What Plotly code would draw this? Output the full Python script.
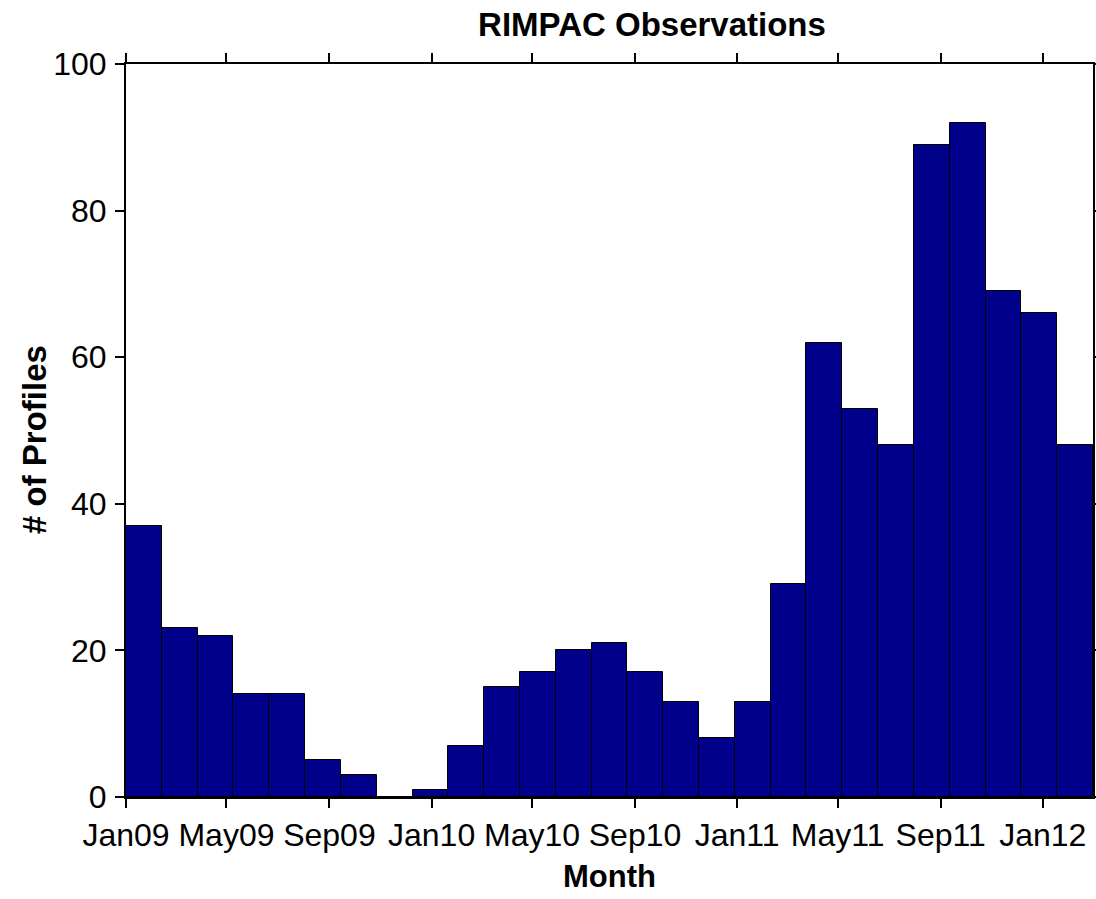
import pandas as pd
import plotly.graph_objects as go

# Profile counts per bin, Jan 2009 through Feb 2012 (27 equal-width bins)
period_start = "2009-01-01"
period_end = "2012-03-01"
profile_counts = [37, 23, 22, 14, 14, 5, 3, 0, 1, 7, 15, 17, 20, 21, 17, 13,
                  8, 13, 29, 62, 53, 48, 89, 92, 69, 66, 48]

tick_dates = ["2009-01-01", "2009-05-01", "2009-09-01", "2010-01-01",
              "2010-05-01", "2010-09-01", "2011-01-01", "2011-05-01",
              "2011-09-01", "2012-01-01"]
tick_labels = ["Jan09", "May09", "Sep09", "Jan10", "May10", "Sep10",
               "Jan11", "May11", "Sep11", "Jan12"]
y_ticks = [0, 20, 40, 60, 80, 100]

t0 = pd.Timestamp(period_start)
t1 = pd.Timestamp(period_end)
n_bins = len(profile_counts)
bin_width = (t1 - t0) / n_bins
bin_starts = [t0 + i * bin_width for i in range(n_bins)]
bin_width_ms = bin_width.total_seconds() * 1000.0

fig = go.Figure(
    go.Bar(
        x=bin_starts,
        y=profile_counts,
        width=[bin_width_ms] * n_bins,
        offset=0,
        marker=dict(color="#00008B", line=dict(color="black", width=1)),
        hoverinfo="x+y",
    )
)

FONT = "Liberation Sans, Arial, Helvetica, sans-serif"
axis_font = dict(family=FONT, size=32, color="black")
title_font = dict(family=FONT, size=31, color="black")

fig.update_layout(
    width=1096,
    height=899,
    margin=dict(l=126, r=3, t=64, b=102, pad=0),
    paper_bgcolor="white",
    plot_bgcolor="white",
    showlegend=False,
    bargap=0,
    title=dict(
        text="<b>RIMPAC Observations</b>",
        font=dict(family=FONT, size=33, color="black"),
        x=652 / 1096, xref="container", xanchor="center",
        y=1 - 24 / 899, yref="container", yanchor="middle",
    ),
    xaxis=dict(
        type="date",
        range=[t0, t1],
        tickvals=tick_dates,
        ticktext=tick_labels,
        ticks="outside", ticklen=9, tickwidth=2, tickcolor="black",
        showline=True, linecolor="black", linewidth=2, mirror="ticks",
        showgrid=False, zeroline=False,
        tickfont=axis_font,
        ticklabelstandoff=0,
        automargin=False,
        title=dict(text="<b>Month</b>", font=title_font, standoff=13),
    ),
    yaxis=dict(
        range=[0, 100],
        tickvals=y_ticks,
        ticks="outside", ticklen=9, tickwidth=2, tickcolor="black",
        showline=True, linecolor="black", linewidth=2, mirror="ticks",
        showgrid=False, zeroline=False,
        tickfont=axis_font,
        ticklabelstandoff=2,
        automargin=False,
    ),
    annotations=[
        dict(
            text="<b># of Profiles</b>",
            font=dict(family=FONT, size=33, color="black"),
            textangle=-90,
            xref="paper", x=-(126 - 34) / (1096 - 129), xanchor="center",
            yref="paper", y=(797 - 440) / (797 - 64), yanchor="middle",
            showarrow=False,
        )
    ],
)

fig.write_html("out.html")
